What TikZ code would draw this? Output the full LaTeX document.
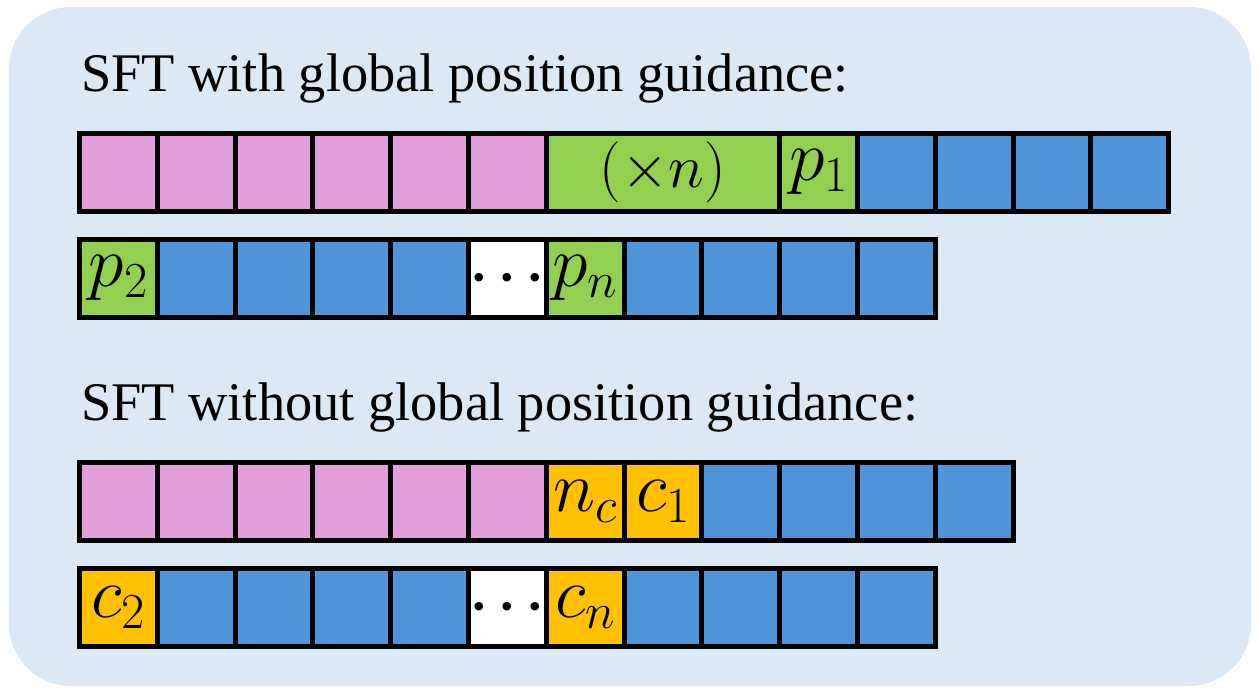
\RequirePackage{fix-cm}
\documentclass[tikz,border=0pt]{standalone}
\usepackage{fontspec}
\setmainfont{Liberation Serif}
\definecolor{bgblue}{RGB}{219,232,245}
\definecolor{cpink}{RGB}{227,159,219}
\definecolor{cgreen}{RGB}{146,208,80}
\definecolor{cblue}{RGB}{78,149,217}
\definecolor{corange}{RGB}{255,192,0}
\tikzset{
  cell/.style={draw=black, line width=5pt, inner sep=0pt, minimum width=77.8pt, minimum height=78pt, font=\fontsize{72}{80}\selectfont},
  pinkcell/.style={cell, fill=cpink},
  greencell/.style={cell, fill=cgreen},
  bluecell/.style={cell, fill=cblue},
  orangecell/.style={cell, fill=corange},
  whitecell/.style={cell, fill=white, font=\fontsize{55}{60}\selectfont\boldmath},
  heading/.style={anchor=base west, inner sep=0pt, font=\fontsize{54.4}{60}\selectfont},
}
\begin{document}
\begin{tikzpicture}[x=1pt,y=-1pt]
\useasboundingbox (0,0) rectangle (1259,696);
\fill[bgblue, rounded corners=62pt] (9,7) rectangle (1251,686);
\node[heading] (h1) at (81,91.5) {SFT with global position guidance:};
\node[heading] (h2) at (81,420.5) {SFT without global position guidance:};
\def\xo{79.5}
\def\s{77.8}
% row 1
\foreach \i in {0,...,5} {\node[pinkcell] (a\i) at ({\xo+(\i+0.5)*\s},172.3) {};}
\node[greencell, minimum width=3*77.8pt, font=\fontsize{61}{70}\selectfont] (a6) at ({\xo+7.5*\s},172.3) {$(\times n)$};
\node[greencell] (a9) at ({\xo+9.5*\s},172.3) {$p_1$};
\foreach \i in {10,...,13} {\node[bluecell] (a\i) at ({\xo+(\i+0.5)*\s},172.3) {};}
% row 2
\node[greencell] (b0) at ({\xo+0.5*\s},278.3) {$p_2$};
\foreach \i in {1,...,4} {\node[bluecell] (b\i) at ({\xo+(\i+0.5)*\s},278.3) {};}
\node[whitecell] (b5) at ({\xo+5.5*\s},278.3) {$\cdots$};
\node[greencell] (b6) at ({\xo+6.5*\s},278.3) {$p_n$};
\foreach \i in {7,...,10} {\node[bluecell] (b\i) at ({\xo+(\i+0.5)*\s},278.3) {};}
% row 3
\foreach \i in {0,...,5} {\node[pinkcell] (c\i) at ({\xo+(\i+0.5)*\s},501.5) {};}
\node[orangecell] (c6) at ({\xo+6.5*\s},501.5) {$n_c$};
\node[orangecell] (c7) at ({\xo+7.5*\s},501.5) {$c_1$};
\foreach \i in {8,...,11} {\node[bluecell] (c\i) at ({\xo+(\i+0.5)*\s},501.5) {};}
% row 4
\node[orangecell] (d0) at ({\xo+0.5*\s},607.5) {$c_2$};
\foreach \i in {1,...,4} {\node[bluecell] (d\i) at ({\xo+(\i+0.5)*\s},607.5) {};}
\node[whitecell] (d5) at ({\xo+5.5*\s},607.5) {$\cdots$};
\node[orangecell] (d6) at ({\xo+6.5*\s},607.5) {$c_n$};
\foreach \i in {7,...,10} {\node[bluecell] (d\i) at ({\xo+(\i+0.5)*\s},607.5) {};}
\end{tikzpicture}
\end{document}
